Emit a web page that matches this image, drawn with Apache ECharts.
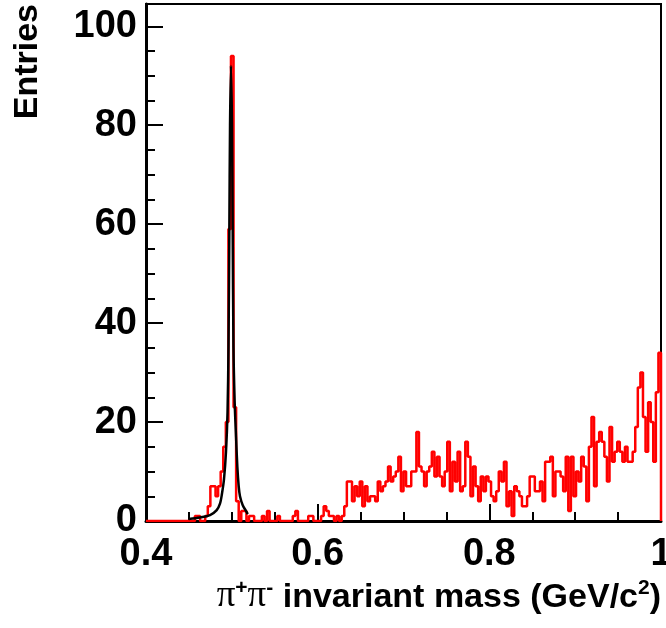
<!DOCTYPE html>
<html lang="en">

<head>
    <meta charset="UTF-8">
    <title>pi+pi- invariant mass</title>
    <script src="https://cdn.jsdelivr.net/npm/echarts@6/dist/echarts.min.js"></script>
    <style>
        html, body { margin: 0; padding: 0; background: #fff; }
    </style>
</head>

<body>
    <div id="main" style="width: 666px;height:628px;"></div>
    <script type="text/javascript">

        // histogram: 200 bins from 0.4 to 1.0 GeV/c2
        const binLow = 0.4;
        const binWidth = 0.003;
        const counts = [
            0, 0, 0, 0, 0, 0, 0, 0, 0, 0,
            0, 0, 0, 0, 0, 0, 0, 0, 0, 1,
            1, 0, 0, 1, 3, 7, 7, 5, 7, 10,
            15, 20, 59, 94, 23, 4, 0, 2, 2, 0,
            1, 1, 0, 0, 0, 1, 0, 2, 0, 0,
            0, 1, 0, 0, 0, 0, 0, 1, 2, 0,
            0, 0, 0, 1, 1, 0, 0, 0, 1, 3,
            2, 1, 1, 0, 1, 0, 1, 3, 8, 8,
            4, 7, 5, 8, 3, 7, 4, 5, 5, 4,
            8, 6, 7, 8, 11, 8, 9, 10, 13, 6,
            10, 7, 7, 10, 10, 18, 11, 10, 7, 10,
            11, 14, 9, 13, 9, 7, 10, 16, 6, 12,
            8, 14, 6, 7, 16, 13, 5, 11, 7, 4,
            9, 6, 9, 8, 5, 4, 6, 10, 8, 12,
            3, 6, 1, 7, 6, 5, 3, 3, 5, 9,
            9, 6, 6, 8, 4, 12, 12, 13, 5, 10,
            10, 9, 6, 13, 2, 13, 5, 10, 8, 13,
            11, 4, 15, 21, 7, 16, 18, 16, 13, 8,
            19, 12, 14, 16, 14, 12, 15, 12, 12, 14,
            19, 27, 30, 21, 14, 24, 20, 12, 26, 34
        ];

        // fitted K0s peak
        const fitMass = [0.4498, 0.4629, 0.4746, 0.4824, 0.4862, 0.4885, 0.4909, 0.4932, 0.4950,
            0.4961, 0.4971, 0.4979, 0.4990, 0.5002, 0.5010, 0.5019, 0.5033, 0.5049, 0.5064,
            0.5080, 0.5095, 0.5127, 0.5173, 0.5185];
        const fitValue = [0.4, 0.7, 1.2, 2.2, 3.5, 5.5, 8.5, 14, 22,
            35, 59, 80, 92, 80, 59, 35, 24, 17, 11,
            7, 5, 3.2, 1.8, 1.4];

        const xTicks = [0.4, 1.0, 0.2];
        const yTicks = [0, 104.5, 20, 5];

        // histogram outline as steps
        let histData = [];
        for (let i = 0; i < counts.length; i++) {
            histData.push([+(binLow + i * binWidth).toFixed(4), counts[i]]);
        }
        let binHigh = +(binLow + counts.length * binWidth).toFixed(4);
        histData.push([binHigh, counts[counts.length - 1]]);
        histData.push([binHigh, 0]);

        let fitData = fitMass.map((m, i) => [m, fitValue[i]]);

        const font = 'Liberation Sans';
        let titleTxt = {
            fontFamily: font,
            fontSize: 34,
            fontWeight: 'bold',
            color: '#000'
        };
        let labelTxt = {
            fontFamily: font,
            fontSize: 38,
            fontWeight: 'bold',
            color: '#000'
        };

        var myChart = echarts.init(document.getElementById('main'));
        option = {
            animation: false,
            backgroundColor: '#fff',
            grid: {
                left: 146,
                right: 5,
                top: 4,
                bottom: 107,
                outerBoundsMode: 'none',
                show: true,
                borderColor: '#000',
                borderWidth: 2
            },
            xAxis: {
                type: 'value',
                min: xTicks[0],
                max: xTicks[1],
                interval: xTicks[2],
                axisLine: { lineStyle: { color: '#000', width: 3 } },
                axisTick: { inside: true, length: 17, lineStyle: { color: '#000', width: 2 } },
                minorTick: { show: true, splitNumber: 4, length: 9, lineStyle: { color: '#000', width: 2 } },
                axisLabel: Object.assign({ margin: 15 }, labelTxt),
                splitLine: { show: false },
                name: '{pi|π}{sup|+}{pi|π}{sup|-}{t| invariant mass (GeV/c}{sup|2}{t|)}',
                nameLocation: 'end',
                nameGap: 0,
                nameMoveOverlap: false,
                nameTextStyle: {
                    align: 'right',
                    verticalAlign: 'top',
                    padding: [57, 0, 0, 0],
                    rich: {
                        pi: { fontFamily: 'Liberation Serif', fontSize: 37, color: '#000', lineHeight: 37, verticalAlign: 'bottom' },
                        sup: { fontFamily: font, fontSize: 21, fontWeight: 'bold', color: '#000', lineHeight: 21, verticalAlign: 'top' },
                        t: Object.assign({ lineHeight: 37, verticalAlign: 'bottom' }, titleTxt)
                    }
                }
            },
            yAxis: [
                {
                    type: 'value',
                    min: yTicks[0],
                    max: yTicks[1],
                    interval: yTicks[2],
                    position: 'left',
                    axisLine: { show: true, lineStyle: { color: '#000', width: 3 } },
                    axisTick: { inside: true, length: 17, lineStyle: { color: '#000', width: 2 } },
                    axisLabel: Object.assign({ margin: 9, showMaxLabel: false }, labelTxt),
                    splitLine: { show: false },
                    name: 'Entries',
                    nameLocation: 'end',
                    nameRotate: 90,
                    nameGap: 0,
                    nameMoveOverlap: false,
                    nameTextStyle: Object.assign({
                        align: 'right',
                        verticalAlign: 'bottom',
                        padding: [0, 0, 101, 0]
                    }, titleTxt)
                },
                {
                    // minor ticks every 5 entries
                    type: 'value',
                    min: yTicks[0],
                    max: yTicks[1],
                    interval: yTicks[3],
                    position: 'left',
                    offset: 0,
                    axisLine: { show: false },
                    axisTick: { show: true, inside: true, length: 9, lineStyle: { color: '#000', width: 2 } },
                    axisLabel: { show: false },
                    splitLine: { show: false }
                }
            ],
            series: [
                {
                    name: 'data',
                    type: 'line',
                    step: 'end',
                    symbol: 'none',
                    data: histData,
                    lineStyle: { color: '#ff0000', width: 2.5 },
                    z: 2
                },
                {
                    name: 'fit',
                    type: 'line',
                    smooth: 0.3,
                    symbol: 'none',
                    data: fitData,
                    lineStyle: { color: '#000', width: 2.5 },
                    z: 3
                }
            ]
        };

        myChart.setOption(option);

    </script>
</body>

</html>
